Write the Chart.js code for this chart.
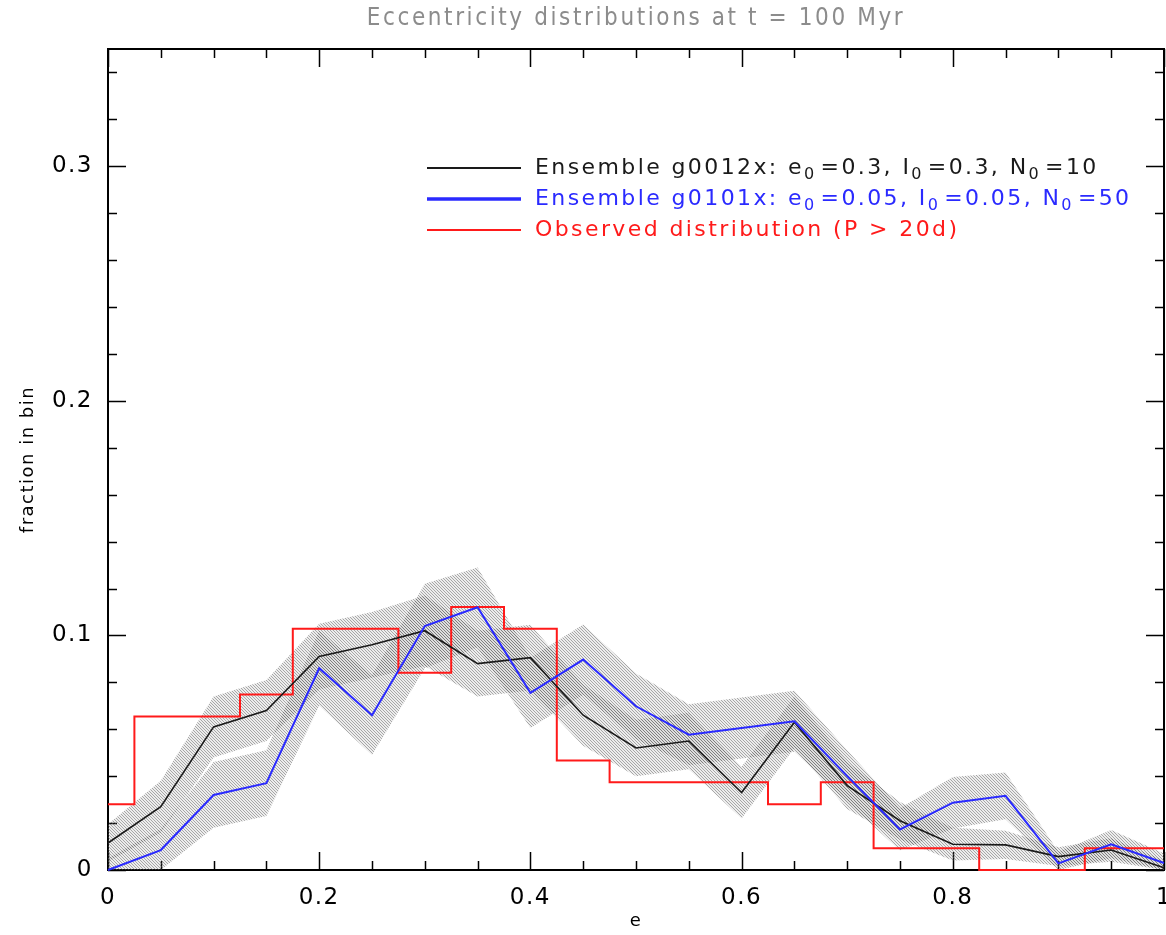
<!DOCTYPE html>
<html><head><meta charset="utf-8">
<script src="https://cdn.jsdelivr.net/npm/chart.js@4/dist/chart.umd.min.js"></script>
<style>html,body{margin:0;padding:0;background:#fff;overflow:hidden}</style>
</head><body>
<canvas id="c" width="1166" height="935"></canvas>
<script>
// ---- data ----
const eBins = [0,0.05,0.1,0.15,0.2,0.25,0.3,0.35,0.4,0.45,0.5,0.55,0.6,0.65,0.7,0.75,0.8,0.85,0.9,0.95,1.0];
const blackFrac = [0.0115,0.027,0.061,0.068,0.091,0.096,0.102,0.088,0.0905,0.066,0.052,0.055,0.033,0.063,0.036,0.021,0.011,0.0107,0.0057,0.0085,0.001];
const blackErr  = [0.008,0.011,0.013,0.013,0.014,0.014,0.015,0.014,0.014,0.013,0.012,0.012,0.011,0.011,0.010,0.008,0.007,0.006,0.004,0.005,0.003];
const blueFrac  = [0.0,0.0085,0.032,0.037,0.086,0.066,0.104,0.112,0.0755,0.0897,0.0698,0.0577,0.0605,0.0634,0.040,0.0173,0.0287,0.0316,0.0028,0.011,0.003];
const blueErr   = [0.005,0.009,0.014,0.014,0.016,0.017,0.018,0.017,0.015,0.015,0.014,0.013,0.013,0.013,0.011,0.009,0.011,0.010,0.005,0.006,0.004];
const observedFrac = [0.028,0.0654,0.0654,0.0748,0.1028,0.1028,0.0841,0.1121,0.1028,0.0467,0.0374,0.0374,0.0374,0.028,0.0374,0.0093,0.0093,0,0,0.0093,0.0093];
const xTickValues = [0,0.2,0.4,0.6,0.8,1];
const xTickLabels = ['0','0.2','0.4','0.6','0.8','1'];
const yTickValues = [0,0.1,0.2,0.3];
const yTickLabels = ['0','0.1','0.2','0.3'];
const titleText = 'Eccentricity distributions at t = 100 Myr';
const xTitle = 'e';
const yTitle = 'fraction in bin';
const legendLabels = ['Ensemble g0012x: e_0=0.3, I_0=0.3, N_0=10',
                      'Ensemble g0101x: e_0=0.05, I_0=0.05, N_0=50',
                      'Observed distribution (P > 20d)'];
const legendColors = ['#1a1a1a','#2a2aff','#ff1a1a'];
const legendLineWidths = [2,3.5,2];

// ---- build ----
const canvas = document.getElementById('c');
const ctx0 = canvas.getContext('2d');
function makeHatch(){
  const p = document.createElement('canvas'); p.width = 3; p.height = 3;
  const g = p.getContext('2d');
  g.fillStyle = 'rgba(128,128,128,0.14)'; g.fillRect(0,0,3,3);
  g.fillStyle = 'rgba(90,90,90,0.47)';
  for (let i=0;i<3;i++) g.fillRect(i,i,1,1);
  return ctx0.createPattern(p,'repeat');
}
const hatch = makeHatch();
const pts = (ys) => eBins.map((x,i)=>({x, y: ys[i]}));
const band = (ys, err, sign) => eBins.map((x,i)=>({x, y: Math.max(0, ys[i] + sign*err[i])}));

const FONT = 'DejaVu Sans';

const framePlugin = {
  id: 'frame',
  beforeDraw(chart){ chart.ctx.letterSpacing = '1.5px'; },
  beforeDatasetsDraw(chart){
    const {ctx, chartArea: a, scales: {x, y}} = chart;
    ctx.save();
    ctx.strokeStyle = '#000';
    ctx.lineWidth = 1.5;
    ctx.beginPath();
    for (let v=0; v<=1.0001; v+=0.05){
      const px = Math.round(x.getPixelForValue(v)) + 0.5;
      const major = Math.abs(v/0.2 - Math.round(v/0.2)) < 1e-6;
      const L = major ? 18 : 9;
      ctx.moveTo(px, a.bottom); ctx.lineTo(px, a.bottom - L);
      ctx.moveTo(px, a.top); ctx.lineTo(px, a.top + L);
    }
    for (let v=0; v<=0.3501; v+=0.02){
      const py = Math.round(y.getPixelForValue(v)) + 0.5;
      const major = Math.abs(v/0.1 - Math.round(v/0.1)) < 1e-6;
      const L = major ? 18 : 9;
      ctx.moveTo(a.left, py); ctx.lineTo(a.left + L, py);
      ctx.moveTo(a.right, py); ctx.lineTo(a.right - L, py);
    }
    ctx.stroke();
    ctx.lineWidth = 2;
    ctx.strokeRect(a.left, a.top, a.right - a.left, a.bottom - a.top);
    ctx.restore();
  },
  afterDraw(chart){
    const {ctx, chartArea: a} = chart;
    ctx.save();
    // title
    ctx.fillStyle = '#8c8c8c';
    ctx.letterSpacing = '2.6px';
    ctx.font = '24px "DejaVu Sans Condensed"';
    ctx.textAlign = 'center'; ctx.textBaseline = 'middle';
    ctx.fillText(titleText, (a.left + a.right)/2, 19);

    // legend
    const lx0 = 427, lx1 = 521, tx = 535, ry0 = 168, dy = 31;
    ctx.letterSpacing = '2.4px';
    legendLabels.forEach((lab, i) => {
      const yy = ry0 + i*dy;
      ctx.strokeStyle = legendColors[i]; ctx.lineWidth = legendLineWidths[i];
      ctx.beginPath(); ctx.moveTo(lx0, yy); ctx.lineTo(lx1, yy); ctx.stroke();
      ctx.fillStyle = legendColors[i];
      ctx.textAlign = 'left'; ctx.textBaseline = 'middle';
      let cx = tx;
      const parts = lab.split(/(_0)/);
      parts.forEach(p => {
        if (p === '_0'){
          ctx.font = '16px "' + FONT + '"';
          ctx.fillText('0', cx, yy + 7);
          cx += ctx.measureText('0').width + 4;
        } else if (p.length){
          ctx.font = '22px "' + FONT + '"';
          ctx.fillText(p, cx, yy);
          cx += ctx.measureText(p).width;
        }
      });
    });
    ctx.restore();
    ctx.letterSpacing = '0px';
  }
};

new Chart(canvas, {
  type: 'line',
  data: {
    datasets: [
      {data: band(blackFrac, blackErr, 1), fill: '+1', backgroundColor: hatch, borderWidth: 0, pointRadius: 0, order: 10},
      {data: band(blackFrac, blackErr, -1), fill: false, borderWidth: 0, pointRadius: 0, order: 10},
      {data: band(blueFrac, blueErr, 1), fill: '+1', backgroundColor: hatch, borderWidth: 0, pointRadius: 0, order: 9},
      {data: band(blueFrac, blueErr, -1), fill: false, borderWidth: 0, pointRadius: 0, order: 9},
      {data: pts(observedFrac), stepped: 'middle', borderColor: '#ff1a1a', borderWidth: 2, pointRadius: 0, fill: false, order: 3, clip: 4},
      {data: pts(blackFrac), borderColor: '#1a1a1a', borderWidth: 1.6, pointRadius: 0, fill: false, order: 2, clip: 4},
      {data: pts(blueFrac), borderColor: '#2a2aff', borderWidth: 2, pointRadius: 0, fill: false, order: 1, clip: 4}
    ]
  },
  options: {
    responsive: false, animation: false, devicePixelRatio: 1,
    layout: {padding: {left: 0, right: 2, top: 49, bottom: 0}},
    plugins: {legend: {display: false}, title: {display: false}, tooltip: {enabled: false}},
    elements: {line: {tension: 0}},
    scales: {
      x: {
        type: 'linear', min: 0, max: 1,
        grid: {display: false, drawTicks: false}, border: {display: false},
        afterBuildTicks: s => { s.ticks = xTickValues.map(v => ({value: v})); },
        afterFit: s => { s.height = 65; s.paddingLeft = 0; s.paddingRight = 0; },
        ticks: {padding: 14, maxRotation: 0, autoSkip: false, color: '#000', font: {family: FONT, size: 23},
                callback: (v, i) => xTickLabels[i]},
        title: {display: true, text: xTitle, color: '#000', font: {family: FONT, size: 18}, padding: {top: 0, bottom: 3}}
      },
      y: {
        type: 'linear', min: 0, max: 0.35,
        grid: {display: false, drawTicks: false}, border: {display: false},
        afterBuildTicks: s => { s.ticks = yTickValues.map(v => ({value: v})); },
        afterFit: s => { s.width = 108; s.paddingTop = 0; s.paddingBottom = 0; },
        ticks: {padding: 15, autoSkip: false, color: '#000', font: {family: FONT, size: 23},
                callback: (v, i) => yTickLabels[i]},
        title: {display: true, text: yTitle, color: '#000', font: {family: FONT, size: 18}, padding: {top: 18, bottom: 0}}
      }
    }
  },
  plugins: [framePlugin]
});
</script>
</body></html>
